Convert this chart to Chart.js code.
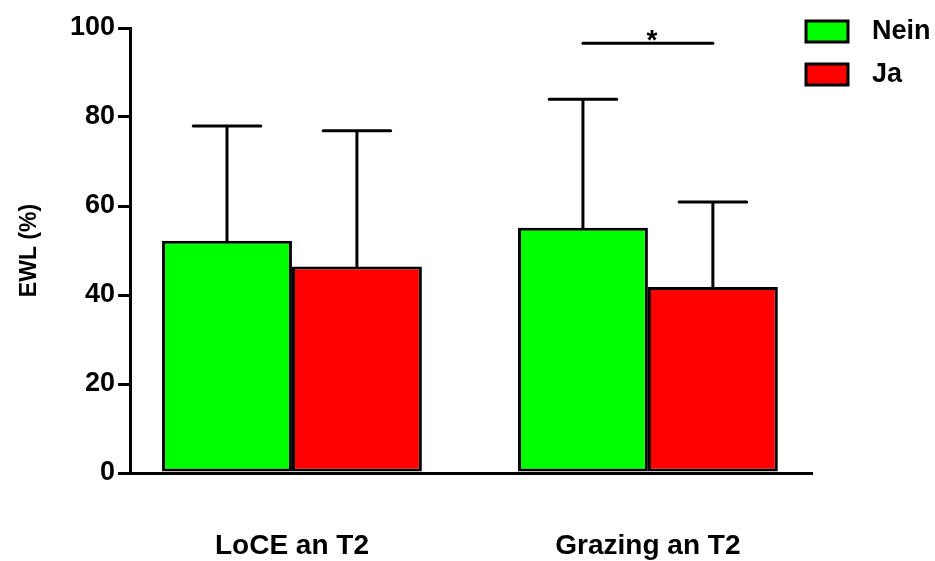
<!DOCTYPE html>
<html>
<head>
<meta charset="utf-8">
<script src="https://cdn.jsdelivr.net/npm/chart.js@4"></script>
<style>
  html, body { margin: 0; padding: 0; background: #fff; }
  #wrap { width: 935px; height: 561px; }
</style>
</head>
<body>
<div id="wrap"><canvas id="c" width="935" height="561"></canvas></div>
<script>
// Groups along the x axis
const categories = ['LoCE an T2', 'Grazing an T2'];
// Series: means and standard deviations (EWL in %)
const seriesNames = ['Nein', 'Ja'];
const meanNein = [52.2, 55.1];
const sdNein = [25.8, 28.9];
const meanJa = [46.4, 41.8];
const sdJa = [30.5, 19.1];
const colors = ['#00ff00', '#ff0000'];
// Y axis ticks
const yTicks = [0, 20, 40, 60, 80, 100];
// Significance bracket over the second group (value level and marker)
const sigGroup = 1;
const sigLevel = 96.6;
const sigText = '*';

const FONT = '"Liberation Sans", Arial, Helvetica, sans-serif';

const toPoints = arr => arr.map((v, i) => ({ x: i + 1, y: v }));

// Whiskers: upper error bar only, with a cap
const errorBars = {
  id: 'errorBars',
  afterDatasetsDraw(chart) {
    const ctx = chart.ctx;
    const y = chart.scales.y;
    const sds = [sdNein, sdJa];
    ctx.save();
    ctx.strokeStyle = '#000';
    ctx.lineWidth = 3;
    ctx.lineCap = 'round';
    chart.data.datasets.forEach((ds, di) => {
      const meta = chart.getDatasetMeta(di);
      meta.data.forEach((bar, i) => {
        const top = y.getPixelForValue(ds.data[i].y + sds[di][i]);
        const half = bar.width * 0.26;
        ctx.beginPath();
        ctx.moveTo(bar.x, bar.y);
        ctx.lineTo(bar.x, top);
        ctx.moveTo(bar.x - half, top);
        ctx.lineTo(bar.x + half, top);
        ctx.stroke();
      });
    });
    ctx.restore();
  }
};

// Significance bracket between the two bars of one group
const significance = {
  id: 'significance',
  afterDatasetsDraw(chart) {
    const ctx = chart.ctx;
    const y = chart.scales.y;
    const a = chart.getDatasetMeta(0).data[sigGroup];
    const b = chart.getDatasetMeta(1).data[sigGroup];
    const py = y.getPixelForValue(sigLevel);
    ctx.save();
    ctx.strokeStyle = '#000';
    ctx.lineWidth = 3;
    ctx.lineCap = 'round';
    ctx.beginPath();
    ctx.moveTo(a.x, py);
    ctx.lineTo(b.x, py);
    ctx.stroke();
    ctx.fillStyle = '#000';
    ctx.font = 'bold 28px ' + FONT;
    ctx.textAlign = 'center';
    ctx.textBaseline = 'alphabetic';
    ctx.fillText(sigText, (a.x + b.x) / 2 + 4, py + 6);
    ctx.restore();
  }
};

// Legend drawn at the upper right
const sideLegend = {
  id: 'sideLegend',
  afterDraw(chart) {
    const ctx = chart.ctx;
    const x0 = chart.chartArea.right - 6;
    ctx.save();
    ctx.font = 'bold 27px ' + FONT;
    ctx.textBaseline = 'middle';
    ctx.textAlign = 'left';
    chart.data.datasets.forEach((ds, i) => {
      const top = 21 + i * 43;
      ctx.fillStyle = ds.backgroundColor;
      ctx.fillRect(x0, top, 42, 21);
      ctx.strokeStyle = '#000';
      ctx.lineWidth = 3;
      ctx.strokeRect(x0, top, 42, 21);
      ctx.fillStyle = '#000';
      ctx.fillText(ds.label, x0 + 66, top + 11);
    });
    ctx.restore();
  }
};

new Chart(document.getElementById('c'), {
  type: 'bar',
  data: {
    datasets: [
      { label: seriesNames[0], data: toPoints(meanNein), backgroundColor: colors[0],
        borderColor: '#000', borderWidth: 3, borderSkipped: false },
      { label: seriesNames[1], data: toPoints(meanJa), backgroundColor: colors[1],
        borderColor: '#000', borderWidth: 3, borderSkipped: false }
    ]
  },
  options: {
    responsive: false,
    animation: false,
    devicePixelRatio: 1,
    layout: { padding: { top: 28, right: 123, left: 0, bottom: 0 } },
    datasets: { bar: { categoryPercentage: 0.73, barPercentage: 1, grouped: true } },
    plugins: { legend: { display: false }, tooltip: { enabled: false } },
    scales: {
      x: {
        type: 'linear',
        bounds: 'data',
        offset: false,
        min: 0.545,
        max: 2.461,
        afterBuildTicks: s => { s.ticks = categories.map((_, i) => ({ value: i + 1 })); },
        afterFit: s => { s.height = 88; },
        ticks: {
          callback: v => categories[v - 1] || '',
          color: '#000',
          font: { family: FONT, size: 28, weight: 'bold' },
          padding: 56,
          maxRotation: 0,
          autoSkip: false
        },
        grid: { display: false, drawTicks: false, offset: false },
        border: { display: true, color: '#000', width: 3 }
      },
      y: {
        min: 0,
        max: 100,
        afterBuildTicks: s => { s.ticks = yTicks.map(v => ({ value: v })); },
        afterFit: s => { s.width = 130; },
        ticks: {
          color: '#000',
          font: { family: FONT, size: 27, weight: 'bold' },
          padding: 3
        },
        grid: { drawOnChartArea: false, drawTicks: true, tickLength: 12, color: '#000', lineWidth: 3 },
        border: { display: true, color: '#000', width: 3 },
        title: {
          display: true,
          text: 'EWL (%)',
          color: '#000',
          font: { family: FONT, size: 23, weight: 'bold' },
          padding: { top: 16, bottom: 0 }
        }
      }
    }
  },
  plugins: [errorBars, significance, sideLegend]
});
</script>
</body>
</html>
